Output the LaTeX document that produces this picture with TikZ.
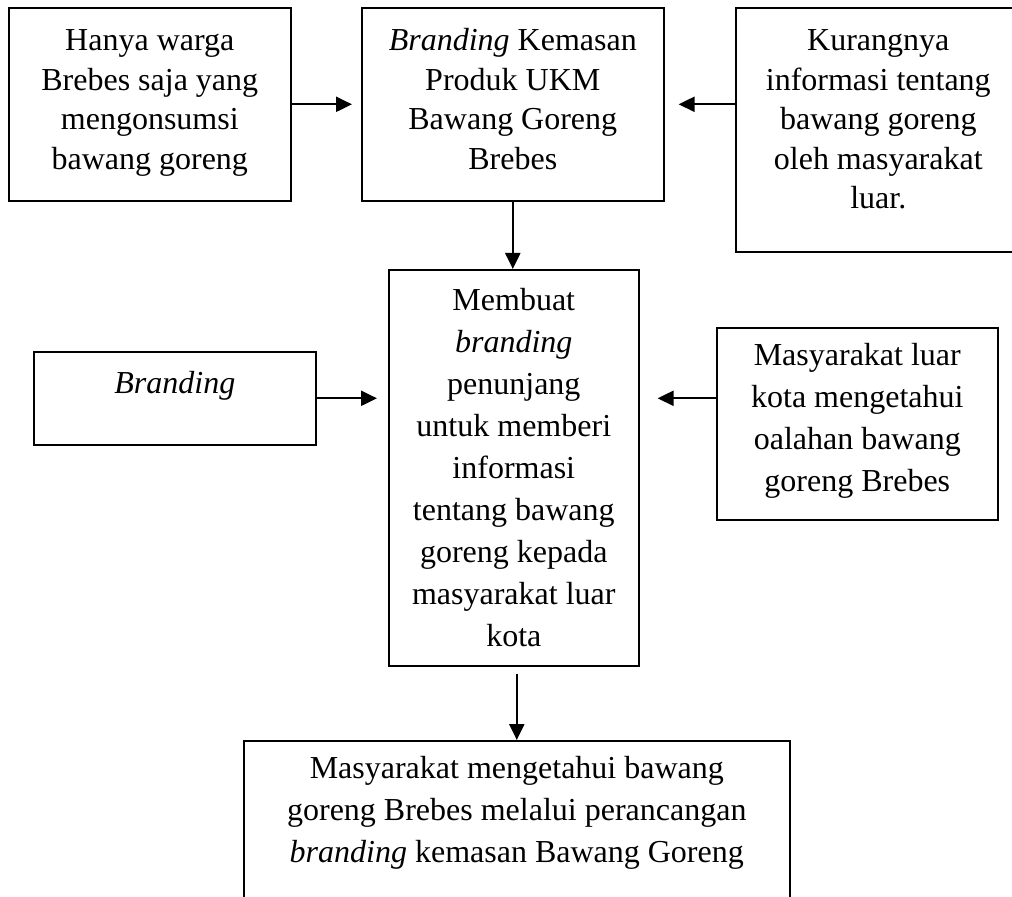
\documentclass[tikz,border=0pt]{standalone}
\usepackage{fontspec}
\setmainfont{Liberation Serif}
\usetikzlibrary{arrows.meta}

\begin{document}
\begin{tikzpicture}[
  x=0.5pt, y=-0.5pt,
  box/.style={draw, line width=0.8pt, inner sep=0pt, anchor=north west,
              align=flush center, font=\fontsize{16}{19.75}\selectfont},
  loose/.style={font=\fontsize{16}{21}\selectfont},
  arr/.style={-{Triangle[length=8pt,width=7.5pt]}, line width=1.1pt}
]
  \useasboundingbox (0,0) rectangle (1012,897);
  \clip (0,0) rectangle (1012,897);

  % top row
  \node[box, text width=141pt, text height=21.5pt, text depth=75pt] (issue) at (8,7)
    {Hanya warga\\ Brebes saja yang\\ mengonsumsi\\ bawang goreng};
  \node[box, text width=151pt, text height=21.5pt, text depth=75pt] (brand) at (361,7)
    {\textit{Branding} Kemasan\\ Produk UKM\\ Bawang Goreng\\ Brebes};
  \node[box, text width=142.5pt, text height=21.5pt, text depth=100.5pt] (lack) at (735,7)
    {Kurangnya\\ informasi tentang\\ bawang goreng\\ oleh masyarakat\\ luar.};

  % middle row
  \node[box, loose, text width=125pt, text height=20.5pt, text depth=177.5pt] (make) at (388,269)
    {Membuat\\ \textit{branding}\\ penunjang\\ untuk memberi\\ informasi\\ tentang bawang\\ goreng kepada\\ masyarakat luar\\ kota};
  \node[box, text width=141pt, text height=21pt, text depth=25.5pt] (branding) at (33,351)
    {\textit{Branding}};
  \node[box, loose, text width=140.5pt, text height=19pt, text depth=77pt] (know) at (716,327)
    {Masyarakat luar\\ kota mengetahui\\ oalahan bawang\\ goreng Brebes};

  % bottom
  \node[box, loose, text width=273pt, text height=19pt, text depth=90pt] (result) at (243,740)
    {Masyarakat mengetahui bawang\\ goreng Brebes melalui perancangan\\ \textit{branding} kemasan Bawang Goreng};

  \draw[arr, shorten >=4.5pt] (issue.east) -- (brand.west);
  \draw[arr, shorten >=7pt] (lack.west |- brand.east) -- (brand.east);
  \draw[arr] (brand.south) -- (brand.south |- make.north);
  \draw[arr, shorten >=5.5pt] (branding.east) -- (branding.east -| make.west);
  \draw[arr, shorten >=9pt] (know.west |- branding.east) -- (make.east |- branding.east);
  \draw[arr, shorten <=3.5pt] (result.north |- make.south) -- (result.north);
\end{tikzpicture}
\end{document}
